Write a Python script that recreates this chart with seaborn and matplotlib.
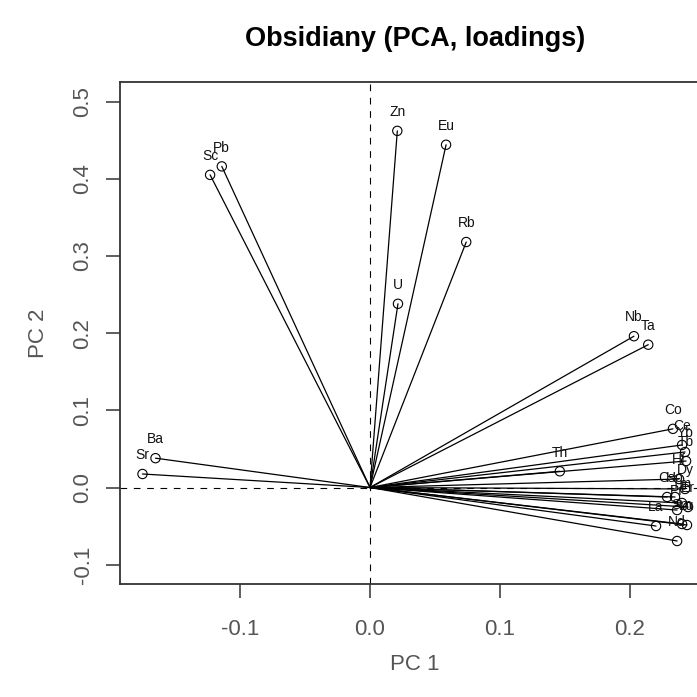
import matplotlib
matplotlib.use("Agg")
import matplotlib.pyplot as plt
import seaborn as sns
import pandas as pd

# ---- data (PCA loadings) ----
elements = ["Sr", "Ba", "Sc", "Pb", "Zn", "Eu", "U", "Rb", "Nb", "Ta", "Th",
            "Co", "Ce", "Yb", "Tb", "Hf", "Dy", "Cs", "Ho", "Tm", "Er", "Pr",
            "Sm", "La", "Lu", "Nd"]
pc1 = [-0.175, -0.165, -0.123, -0.114, 0.021, 0.0585, 0.0215, 0.074, 0.203, 0.214, 0.146,
       0.2330, 0.2400, 0.2423, 0.2431, 0.2377, 0.2423, 0.2285, 0.2346, 0.2400, 0.2446, 0.2362,
       0.2400, 0.2200, 0.2438, 0.2362]
pc2 = [0.0175, 0.038, 0.405, 0.416, 0.462, 0.444, 0.238, 0.318, 0.196, 0.185, 0.021,
       0.076, 0.0551, 0.0460, 0.0343, 0.0110, -0.0019, -0.0123, -0.0123, -0.0201, -0.0253, -0.0292,
       -0.0473, -0.0499, -0.0486, -0.0693]
x_ticks = [-0.1, 0.0, 0.1, 0.2]
y_ticks = [-0.1, 0.0, 0.1, 0.2, 0.3, 0.4, 0.5]

sns.set_style("white")
plt.rcParams["font.family"] = ["Liberation Sans", "DejaVu Sans"]

W = H = 697
fig = plt.figure(figsize=(W / 100, H / 100), dpi=100)
# plot region in pixels: left 120, right 710, top 82, bottom 584
ax = fig.add_axes([120 / W, (H - 584) / H, (710 - 120) / W, (584 - 82) / H])

df = pd.DataFrame({"element": elements, "PC1": pc1, "PC2": pc2})
seg = pd.concat([
    pd.DataFrame({"element": elements, "x": 0.0, "y": 0.0, "o": 0}),
    pd.DataFrame({"element": elements, "x": pc1, "y": pc2, "o": 1}),
]).sort_values(["element", "o"])

ax.axhline(0, color="black", lw=0.8, ls=(0, (6, 6)), zorder=1)
ax.axvline(0, color="black", lw=0.8, ls=(0, (6, 6)), zorder=1)

sns.lineplot(data=seg, x="x", y="y", units="element", estimator=None, sort=False,
             color="black", lw=0.9, ax=ax, legend=False)
sns.scatterplot(data=df, x="PC1", y="PC2", ax=ax, s=45, facecolor="none",
                edgecolor="black", linewidth=0.8, legend=False, zorder=3)

for e, xv, yv in zip(elements, pc1, pc2):
    ax.annotate(e, (xv, yv), xytext=(0, 13.5), textcoords="offset points",
                ha="center", va="center", fontsize=10, color="#111111")

ax.set_xlim(-0.1923, 0.2615)
ax.set_ylim(-0.125, 0.5253)
ax.set_xticks(x_ticks)
ax.set_xticklabels([f"{v:.1f}" for v in x_ticks])
ax.set_yticks(y_ticks)
ax.set_yticklabels([f"{v:.1f}" for v in y_ticks])

for s in ax.spines.values():
    s.set_color("#333333")
    s.set_linewidth(1.3)

ax.tick_params(axis="both", direction="out", length=10, width=1.1, color="#333333",
               labelsize=16, labelcolor="#555555", pad=15,
               bottom=True, left=True, top=False, right=False)
ax.tick_params(axis="y", labelrotation=90, pad=9)
for lab in ax.get_yticklabels():
    lab.set_va("center")

ax.set_xlabel("PC 1", fontsize=16, color="#555555")
ax.set_ylabel("PC 2", fontsize=16, color="#555555")
ax.xaxis.set_label_coords(0.5, (584 - 665) / 502)
ax.xaxis.label.set_va("center")
ax.yaxis.set_label_coords((38 - 120) / 590, 0.5)
ax.yaxis.label.set_va("center")

ax.set_title("Obsidiany (PCA, loadings)", fontsize=19.5, fontweight="bold",
             color="black", y=1 + (82 - 47) / 502, va="center")

fig.savefig("out.png", dpi=100)
